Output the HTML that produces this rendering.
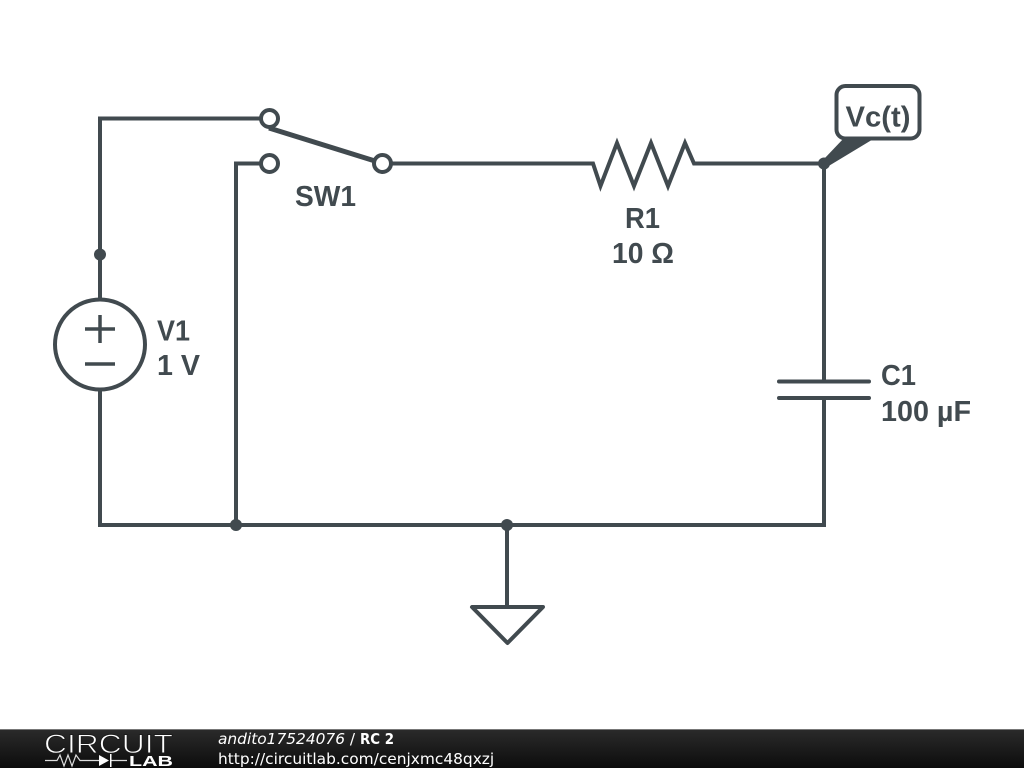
<!DOCTYPE html>
<html><head><meta charset="utf-8"><style>
html,body{margin:0;padding:0;background:#fff;width:1024px;height:768px;overflow:hidden}
svg{display:block}
.l{font-family:"Liberation Sans",sans-serif;font-weight:bold;font-size:28.500px;fill:#414a4f}
.f{font-family:"DejaVu Sans",sans-serif;font-size:15.400px;fill:#fff}
</style></head><body>
<svg width="1024" height="768" viewBox="0 0 1024 768" xmlns="http://www.w3.org/2000/svg">
<defs><linearGradient id="g" x1="0" y1="0" x2="0" y2="1"><stop offset="0" stop-color="#2b2b2b"/><stop offset="1" stop-color="#0c0c0c"/></linearGradient></defs>
<rect width="1024" height="768" fill="#fff"/>
<g fill="none" stroke="#414a4f" stroke-width="4" stroke-linejoin="miter">
<path d="M261 118.500H100V299M100 390V525H824V398M824 381V163.500H694L685 143L668 186L651 143L634 186L617 143L600.500 186L593 163.500H391"/>
<path d="M261 163.500H236V525M507 525V606"/>
<circle cx="100" cy="344.500" r="45"/>
<path d="M85 329H115M100 315V343M85 364H115" stroke-width="3.500"/>
<path d="M269 128L375 161" stroke-width="5"/>
<circle cx="269.500" cy="118.500" r="8.500" fill="#fff"/>
<circle cx="269.500" cy="163.500" r="8.500" fill="#fff"/>
<circle cx="382.500" cy="163.500" r="8.500" fill="#fff"/>
<path d="M779 381.500H869M779 398H869" stroke-linecap="round"/>
<path d="M472 607H543L507.500 643Z" stroke-linejoin="round"/>
</g>
<g fill="#414a4f">
<circle cx="100" cy="254.500" r="6"/><circle cx="236" cy="525" r="6"/><circle cx="507" cy="525" r="6"/><circle cx="824" cy="163.500" r="6"/>
<path d="M824 159L844 138H875L827 167Z"/>
</g>
<rect x="836.500" y="86" width="83" height="52.500" rx="9" fill="#fff" stroke="#414a4f" stroke-width="4"/>
<text class="l" x="845.500" y="126.500" textLength="65" lengthAdjust="spacingAndGlyphs">Vc(t)</text>
<text class="l" x="295" y="206" textLength="61" lengthAdjust="spacingAndGlyphs">SW1</text>
<text class="l" x="625" y="228" textLength="35" lengthAdjust="spacingAndGlyphs">R1</text>
<text class="l" x="612" y="263" textLength="62" lengthAdjust="spacingAndGlyphs">10 Ω</text>
<text class="l" x="157" y="340.500" textLength="33" lengthAdjust="spacingAndGlyphs">V1</text>
<text class="l" x="157" y="375" textLength="43" lengthAdjust="spacingAndGlyphs">1 V</text>
<text class="l" x="881" y="385" textLength="35" lengthAdjust="spacingAndGlyphs">C1</text>
<text class="l" x="881" y="421" textLength="90" lengthAdjust="spacingAndGlyphs">100 µF</text>
<rect x="0" y="729" width="1024" height="39" fill="url(#g)"/>
<rect x="0" y="729" width="1024" height="1" fill="#777"/>
<text x="44" y="753" textLength="129" lengthAdjust="spacingAndGlyphs" font-family="Liberation Sans,sans-serif" font-size="27" fill="#fff" stroke="#1c1c1c" stroke-width="0.900">CIRCUIT</text>
<path d="M45 760.500H57L60 755L64 766L68 755L72 766L76 755L80 760.500H99M111 760.500H127" fill="none" stroke="#ddd" stroke-width="1.200"/>
<path d="M99 755L109 760.500L99 766Z" fill="#fff"/><rect x="110" y="754" width="1.500" height="13" fill="#fff"/>
<text x="129" y="766" textLength="44" lengthAdjust="spacingAndGlyphs" font-family="Liberation Sans,sans-serif" font-weight="bold" font-size="15" fill="#fff">LAB</text>
<text class="f" x="218" y="744"><tspan font-style="italic">andito17524076</tspan> /</text>
<text class="f" x="360" y="744" font-weight="bold" textLength="34" lengthAdjust="spacingAndGlyphs">RC 2</text>
<text class="f" x="218" y="764">http://circuitlab.com/cenjxmc48qxzj</text>
</svg>
</body></html>
